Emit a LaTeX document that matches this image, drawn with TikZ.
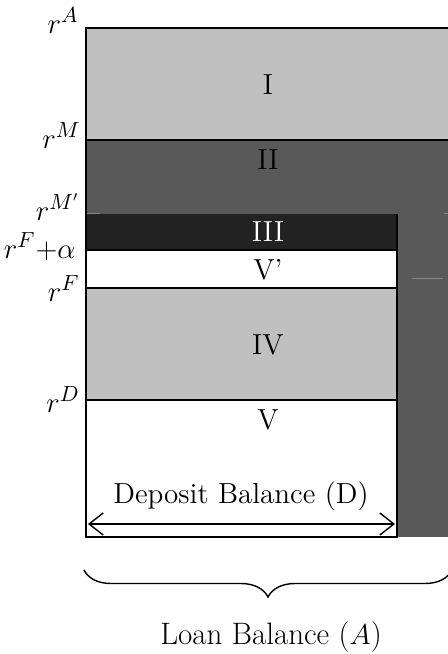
\documentclass[tikz,border=0pt]{standalone}
\usetikzlibrary{arrows.meta,decorations.pathreplacing}
\definecolor{lightBand}{RGB}{192,192,192}
\definecolor{darkBand}{RGB}{89,89,89}
\definecolor{blackBand}{RGB}{34,34,34}
\definecolor{seamGray}{RGB}{135,135,135}
\tikzset{
    every node/.append style={align=center},
    band/.style={draw=black,line width=1.1pt},
    region/.style={font=\fontsize{14.5}{16}\selectfont,inner sep=0pt},
    rate/.style={font=\fontsize{15}{17}\selectfont,anchor=base east,inner sep=0pt},
    dbl/.style={{Straight Barb[length=7pt,width=11pt]}-{Straight Barb[length=7pt,width=11pt]},line width=0.7pt},
    bal/.style={font=\fontsize{14.5}{17}\selectfont,inner sep=0pt},
    seam/.style={draw=seamGray,line width=0.5pt},
    brc/.style={decorate,decoration={brace,mirror,amplitude=13.5pt},line width=0.7pt}
}
\begin{document}
\begin{tikzpicture}[x=0.5pt,y=-0.5pt]
    \useasboundingbox (0,0) rectangle (448,654);
    % fills
    \fill[lightBand] (86,28)  rectangle (448,140);
    \fill[darkBand]  (86,140) rectangle (448,537);
    \fill[blackBand] (86,214) rectangle (397,250);
    \fill[white]     (86,250) rectangle (397,288);
    \fill[lightBand] (86,288) rectangle (397,400);
    \fill[white]     (86,400) rectangle (397,537);
    % faint seams
    \draw[seam] (87,213) -- (100,213);
    \draw[seam] (444,213) -- (448,213);
    \draw[seam] (412,278) -- (443,278);
    % borders
    \draw[band] (448,28) -- (86,28) -- (86,537) -- (397,537) -- (397,214);
    \draw[band] (86,140) -- (448,140);
    \draw[band] (86,250) -- (397,250);
    \draw[band] (86,288) -- (397,288);
    \draw[band] (86,400) -- (397,400);

    % region labels
    \node[region]            (regI)   at (268,85)  {I};
    \node[region]            (regII)  at (268,160) {II};
    \node[region,text=white] (regIII) at (268,232) {III};
    \node[region]            (regVp)  at (268,270) {V'};
    \node[region]            (regIV)  at (268,345) {IV};
    \node[region]            (regV)   at (268,420) {V};

    % rates on the left
    \node[rate] (rA)  at (79,33)  {$r^{A}$};
    \node[rate] (rM)  at (81,148) {$r^{M}$};
    \node[rate] (rMp) at (80,220) {$r^{M'}$};
    \node[rate] (rFa) at (76,258) {$r^{F}{+}\alpha$};
    \node[rate] (rF)  at (80,301) {$r^{F}$};
    \node[rate] (rD)  at (80,412) {$r^{D}$};

    % deposit width
    \coordinate (depL) at (88,524);
    \coordinate (depR) at (395,524);
    \draw[dbl] (depL) -- (depR);
    \node[bal] (dep) at (241,496) {Deposit Balance (D)};

    % loan width
    \coordinate (loanL) at (84,570);
    \coordinate (loanR) at (452,570);
    \draw[brc] (loanL) -- (loanR);
    \node[bal,font=\fontsize{15.5}{18}\selectfont] (loan) at (271,637) {Loan Balance ($A$)};
\end{tikzpicture}
\end{document}
